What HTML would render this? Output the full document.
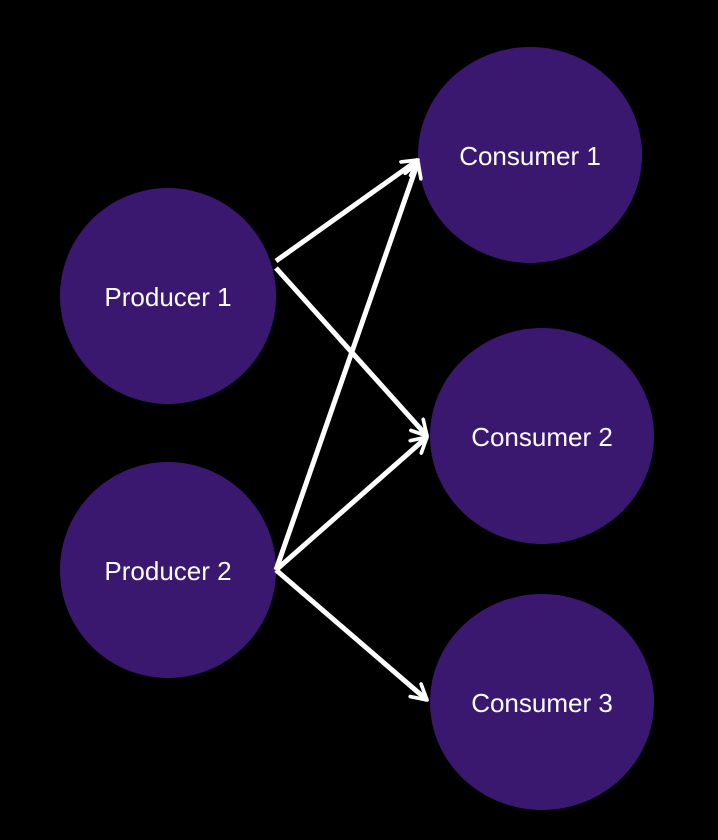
<!DOCTYPE html>
<html><head><style>
html,body{margin:0;padding:0;background:#000;}
svg{display:block;}
text{font-family:"Liberation Sans",sans-serif;font-size:26px;fill:#fff;text-anchor:middle;dominant-baseline:central;}
</style></head><body>
<svg width="718" height="840" viewBox="0 0 718 840">
<rect width="718" height="840" fill="#000"/>
<g fill="#3b1870">
<ellipse cx="168" cy="296" rx="108" ry="108"/>
<ellipse cx="168" cy="570" rx="108" ry="108"/>
<ellipse cx="530" cy="155" rx="112" ry="108"/>
<ellipse cx="542" cy="436" rx="112" ry="108"/>
<ellipse cx="542" cy="702" rx="112" ry="108"/>
</g>
<defs><marker id="a" viewBox="0 0 12 12" refX="10" refY="6" markerWidth="4" markerHeight="4" orient="auto" markerUnits="strokeWidth">
<path d="M1,1 L10,6 L1,11" fill="none" stroke="#fff" stroke-width="2.2" stroke-linecap="round" stroke-linejoin="round"/></marker></defs>
<g stroke="#fff" stroke-width="5" fill="none" marker-end="url(#a)">
<line x1="276" y1="261" x2="418" y2="160"/>
<line x1="276" y1="268" x2="427" y2="436"/>
<line x1="276" y1="570" x2="418" y2="162"/>
<line x1="276" y1="570" x2="427" y2="437"/>
<line x1="276" y1="570" x2="427" y2="700"/>
</g>
<text x="168" y="297">Producer 1</text>
<text x="168" y="571">Producer 2</text>
<text x="530" y="156">Consumer 1</text>
<text x="542" y="437">Consumer 2</text>
<text x="542" y="703">Consumer 3</text>
</svg>
</body></html>
